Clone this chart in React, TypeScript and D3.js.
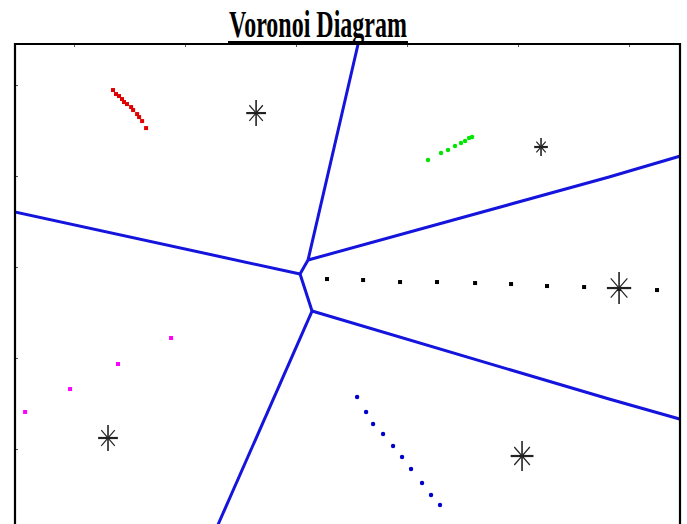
import React, { useEffect, useRef } from 'react';
import * as d3 from 'd3';

type Pt = [number, number];

// cluster members (data units, ticks at whole numbers)
const redPoints: Pt[] = [
  [1.351, 4.945], [1.378, 4.901], [1.405, 4.879], [1.432, 4.846], [1.45, 4.813], [1.477, 4.791],
  [1.514, 4.758], [1.532, 4.725], [1.568, 4.681], [1.586, 4.648], [1.613, 4.604], [1.649, 4.527],
];
const greenPoints: Pt[] = [
  [4.189, 4.176], [4.306, 4.253], [4.369, 4.286], [4.432, 4.33], [4.486, 4.363], [4.523, 4.385],
  [4.559, 4.418], [4.586, 4.429],
];
const blackPoints: Pt[] = [
  [3.279, 2.868], [3.604, 2.857], [3.937, 2.835], [4.27, 2.835], [4.613, 2.824], [4.937, 2.813],
  [5.261, 2.791], [5.595, 2.78], [5.91, 2.758], [6.252, 2.747],
];
const magentaPoints: Pt[] = [[1.874, 2.22], [1.396, 1.934], [0.964, 1.659], [0.559, 1.407]];
const bluePoints: Pt[] = [
  [3.55, 1.571], [3.631, 1.407], [3.694, 1.275], [3.784, 1.165], [3.874, 1.033], [3.955, 0.912],
  [4.036, 0.78], [4.135, 0.626], [4.216, 0.495], [4.297, 0.385],
];

// cluster centres
const centroids: Pt[] = [[2.64, 4.692], [5.207, 4.319], [5.91, 2.769], [1.306, 1.121], [5.036, 0.923]];

// voronoi edges (polylines)
const voronoiEdges: Pt[][] = [
  [[3.036, 2.923], [0.3, 3.65]],
  [[3.036, 2.923], [3.108, 3.077]],
  [[3.036, 2.923], [3.144, 2.516]],
  [[3.108, 3.077], [3.559, 5.451]],
  [[3.108, 3.077], [5.82, 3.989], [6.6, 4.27]],
  [[3.144, 2.516], [5.82, 1.549], [6.6, 1.28]],
  [[3.144, 2.516], [2.2, -0.1]],
];

const xTicks = [1, 2, 3, 4, 5, 6];
const yTicks = [1, 2, 3, 4, 5];

const clusters: { pts: Pt[]; color: string; shape: 'sq' | 'dot' }[] = [
  { pts: redPoints, color: '#e00000', shape: 'sq' },
  { pts: greenPoints, color: '#00e600', shape: 'dot' },
  { pts: blackPoints, color: '#000000', shape: 'sq' },
  { pts: magentaPoints, color: '#ff00ff', shape: 'sq' },
  { pts: bluePoints, color: '#0000cc', shape: 'dot' },
];

const starSizes = [26, 18, 32, 26, 30];

export default function App() {
  const svgRef = useRef<SVGSVGElement>(null);

  useEffect(() => {
    if (!svgRef.current) return;
    const svg = d3.select(svgRef.current);
    svg.selectAll('*').remove();

    const W = 687, H = 524;
    const left = 15, right = 680, top = 44;

    const x = d3.scaleLinear().domain([0.468, 6.459]).range([left, right]);
    const y = d3.scaleLinear().domain([0, 5.451]).range([540, top]);

    svg.attr('width', W).attr('height', H);
    svg.append('rect').attr('width', W).attr('height', H).attr('fill', '#fff');

    const clipId = 'plotclip';
    svg.append('clipPath').attr('id', clipId)
      .append('rect').attr('x', left).attr('y', top).attr('width', right - left).attr('height', H - top);

    const plot = svg.append('g').attr('clip-path', `url(#${clipId})`);

    // voronoi edges
    const line = d3.line<Pt>().x(d => x(d[0])).y(d => y(d[1]));
    plot.selectAll('.edge')
      .data(voronoiEdges)
      .enter()
      .append('path')
      .attr('class', 'edge')
      .attr('d', d => line(d))
      .attr('fill', 'none')
      .attr('stroke', '#1414dc')
      .attr('stroke-width', 3)
      .attr('stroke-linejoin', 'round');

    // cluster points
    clusters.forEach(c => {
      if (c.shape === 'sq') {
        plot.selectAll(null)
          .data(c.pts)
          .enter()
          .append('rect')
          .attr('x', d => x(d[0]) - 2)
          .attr('y', d => y(d[1]) - 2)
          .attr('width', 4)
          .attr('height', 4)
          .attr('fill', c.color);
      } else {
        plot.selectAll(null)
          .data(c.pts)
          .enter()
          .append('circle')
          .attr('cx', d => x(d[0]))
          .attr('cy', d => y(d[1]))
          .attr('r', 2.2)
          .attr('fill', c.color);
      }
    });

    // centroid stars
    centroids.forEach((c, i) => {
      const s = starSizes[i];
      const g = plot.append('g').attr('transform', `translate(${x(c[0])},${y(c[1])})`);
      const segs = [
        [0, -s / 2, 0, s / 2, 1.6],
        [-s * 0.38, 0, s * 0.38, 0, 2.2],
        [-s * 0.26, -s * 0.3, s * 0.26, s * 0.3, 1.2],
        [-s * 0.26, s * 0.3, s * 0.26, -s * 0.3, 1.2],
      ];
      segs.forEach(([x1, y1, x2, y2, w]) => {
        g.append('line')
          .attr('x1', x1).attr('y1', y1).attr('x2', x2).attr('y2', y2)
          .attr('stroke', '#222').attr('stroke-width', w);
      });
    });

    // axes (ticks inward, no labels)
    svg.append('g')
      .attr('transform', `translate(${left},0)`)
      .call(d3.axisLeft(y).tickValues(yTicks).tickSize(-3).tickFormat(() => '').tickSizeOuter(0))
      .call(g => g.select('.domain').remove())
      .selectAll('line').attr('stroke', '#555');
    svg.append('g')
      .attr('transform', `translate(0,${top})`)
      .call(d3.axisTop(x).tickValues(xTicks).tickSize(-3).tickFormat(() => '').tickSizeOuter(0))
      .call(g => g.select('.domain').remove())
      .selectAll('line').attr('stroke', '#555');

    // frame
    svg.append('path')
      .attr('d', `M${left},${H}V${top}H${right}V${H}`)
      .attr('fill', 'none')
      .attr('stroke', '#000')
      .attr('stroke-width', 2.2);

    // title bar + title
    svg.append('rect')
      .attr('x', 228).attr('y', 41).attr('width', 180).attr('height', 4)
      .attr('fill', '#000');
    svg.append('text')
      .attr('transform', 'translate(318,37) scale(1,1.58)')
      .attr('text-anchor', 'middle')
      .attr('font-family', '"Liberation Serif", "Times New Roman", serif')
      .attr('font-weight', 'bold')
      .attr('font-size', 24)
      .attr('fill', '#000')
      .text('Voronoi Diagram');
  }, []);

  return (
    <div style={{ position: 'absolute', left: 0, top: 0 }}>
      <svg ref={svgRef} style={{ display: 'block' }}></svg>
    </div>
  );
}
